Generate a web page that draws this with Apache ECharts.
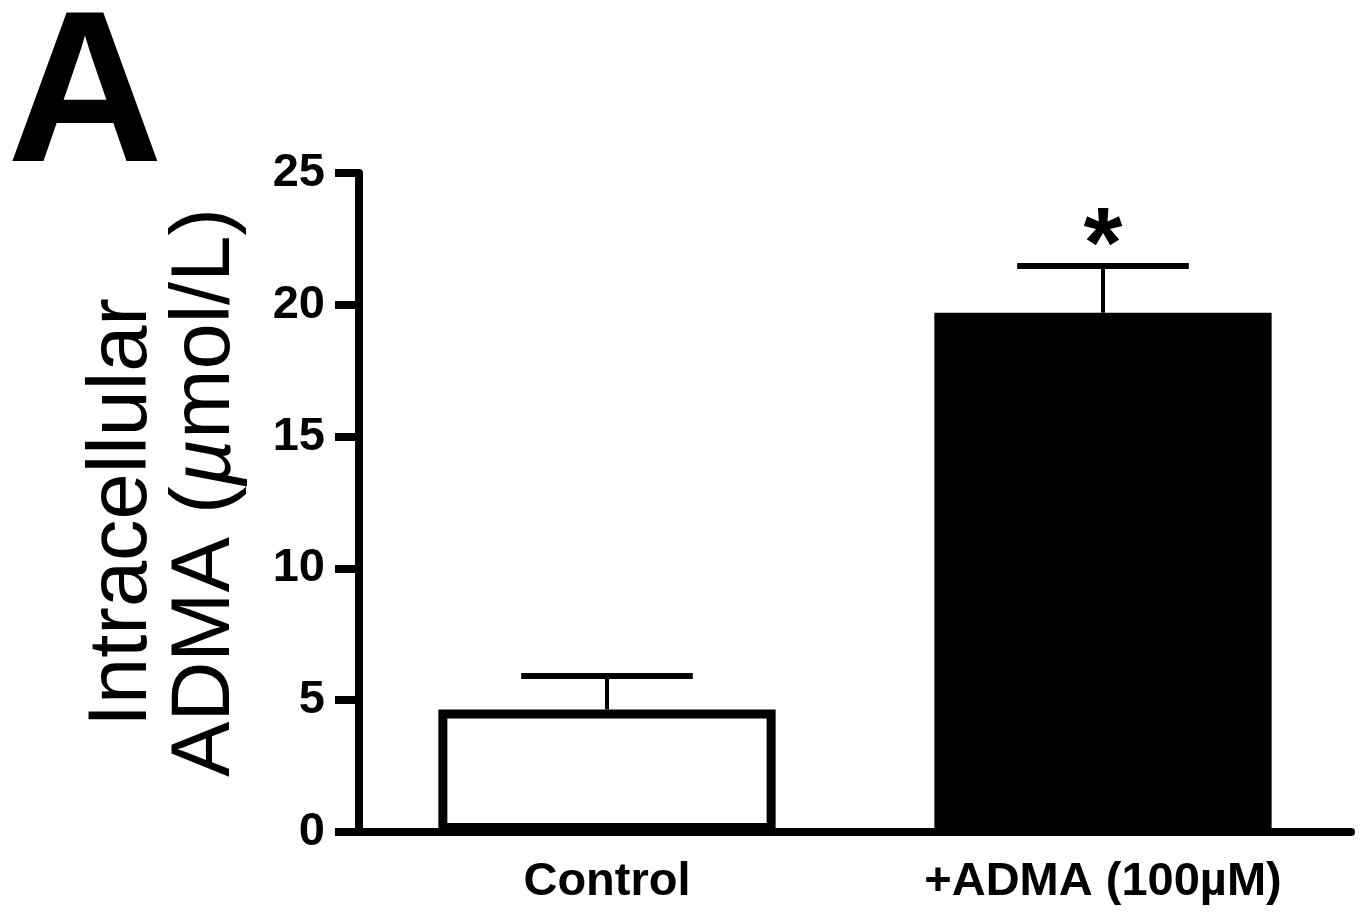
<!DOCTYPE html>
<html>
<head>
<meta charset="utf-8">
<script src="https://cdn.jsdelivr.net/npm/echarts@6/dist/echarts.min.js"></script>
<style>
html, body { margin: 0; padding: 0; background: #fff; }
#mainChart { width: 1365px; height: 913px; }
</style>
</head>
<body>
<div id="mainChart"></div>
<script>
var categories = ['Control', '+ADMA (100µM)'];
var means = [4.65, 19.7];
var errUp = [1.27, 1.77];
var marks = ['', '*'];
var yTicks = [0, 5, 10, 15, 20, 25];

var font = '"Liberation Sans", Arial, Helvetica, sans-serif';

var dom = document.getElementById('mainChart');
var myChart = echarts.init(dom);

var errData = [];
for (var i = 0; i < categories.length; i++) {
	errData.push([i, means[i], means[i] + errUp[i], marks[i]]);
}

var option = {
	backgroundColor: '#fff',
	animation: false,
	graphic: [{
		type: 'text',
		left: 7,
		top: -7,
		style: {
			text: 'A',
			font: 'bold 216px ' + font,
			fill: '#000'
		}
	}],
	grid: {
		left: 359,
		right: 14,
		top: 173,
		bottom: 81
	},
	xAxis: {
		type: 'category',
		data: categories,
		axisLine: { lineStyle: { color: '#000', width: 8 } },
		axisTick: { alignWithLabel: true, length: 21, lineStyle: { color: '#000', width: 8 } },
		axisLabel: {
			color: '#000',
			fontFamily: font,
			fontWeight: 'bold',
			fontSize: 47,
			margin: 27
		}
	},
	yAxis: {
		type: 'value',
		min: yTicks[0],
		max: yTicks[yTicks.length - 1],
		interval: 5,
		splitLine: { show: false },
		axisLine: { show: true, lineStyle: { color: '#000', width: 8 } },
		axisTick: { show: true, length: 24, lineStyle: { color: '#000', width: 8 } },
		axisLabel: {
			color: '#000',
			fontFamily: font,
			fontWeight: 'bold',
			fontSize: 47,
			margin: 34
		},
		name: '{a|Intracellular}\n{b|ADMA (}{i|µ}{n|mol/L)}',
		nameLocation: 'middle',
		nameRotate: 90,
		nameGap: 111,
		nameTextStyle: {
			rich: {
				a: { fontFamily: font, fontSize: 83, lineHeight: 83, color: '#000', padding: [0, 20, 0, 0] },
				b: { fontFamily: font, fontSize: 83, lineHeight: 83, color: '#000', padding: [0, 0, 0, 20] },
				n: { fontFamily: font, fontSize: 83, lineHeight: 83, color: '#000' },
				i: { fontFamily: font, fontSize: 83, lineHeight: 83, fontStyle: 'italic', color: '#000' }
			}
		}
	},
	series: [{
		type: 'bar',
		barWidth: '68%',
		data: [
			{ value: means[0], itemStyle: { color: '#fff', borderColor: '#000', borderWidth: 9 } },
			{ value: means[1], itemStyle: { color: '#000', borderColor: '#000', borderWidth: 9 } }
		]
	}, {
		type: 'custom',
		data: errData,
		z: 5,
		renderItem: function (params, api) {
			var base = api.coord([api.value(0), api.value(1)]);
			var top = api.coord([api.value(0), api.value(2)]);
			var half = api.size([1, 0])[0] * 0.173;
			var children = [{
				type: 'line',
				shape: { x1: base[0], y1: base[1], x2: top[0], y2: top[1] },
				style: { stroke: '#000', lineWidth: 4 }
			}, {
				type: 'line',
				shape: { x1: top[0] - half, y1: top[1], x2: top[0] + half, y2: top[1] },
				style: { stroke: '#000', lineWidth: 6 }
			}];
			var mark = errData[params.dataIndex][3];
			if (mark) {
				children.push({
					type: 'text',
					style: {
						text: mark,
						x: top[0],
						y: top[1] - 17,
						align: 'center',
						verticalAlign: 'middle',
						font: 'bold 100px ' + font,
						fill: '#000'
					}
				});
			}
			return { type: 'group', children: children };
		}
	}]
};

myChart.setOption(option, true);
</script>
</body>
</html>
